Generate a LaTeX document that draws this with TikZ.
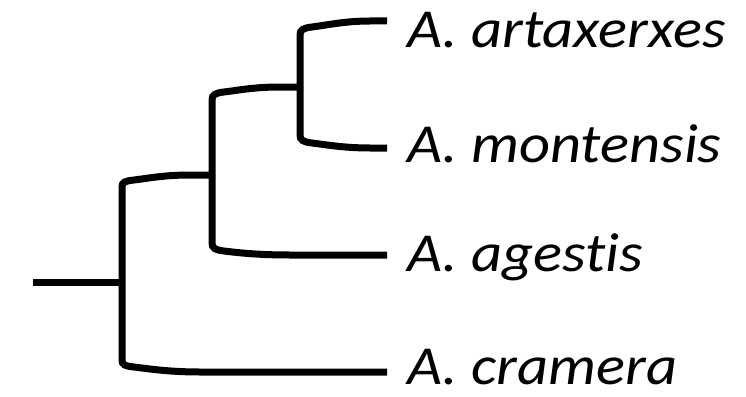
\documentclass[tikz,border=0pt]{standalone}
\usepackage{fontspec}
\setmainfont{Carlito}[Ligatures=NoCommon, FakeStretch=1.1]
\begin{document}
\begin{tikzpicture}[x=1pt,y=-1pt,
	branch/.style={ line width=7pt },
	taxon/.style={ anchor=base west, inner sep=0pt, font=\fontsize{55}{66}\selectfont\itshape }
]
\useasboundingbox (0,0) rectangle (746,396);

\coordinate (root) at (33,282);
\coordinate (n1) at (122,282);
\coordinate (n2) at (212,175);
\coordinate (n3) at (300,87);
\coordinate (tart) at (387,21);
\coordinate (tmon) at (387,148);
\coordinate (tage) at (387,255);
\coordinate (tcra) at (387,372);
\node at (407,48) (art) [taxon] {A. artaxerxes};
\node at (407,162) (mon) [taxon] {A. montensis};
\node at (407,271) (age) [taxon] {A. agestis};
\node at (407,384) (cra) [taxon] {A. cramera};

\draw[branch] (root) -- (n1);
\draw[branch] (n1) -- (122,187) .. controls (122,182) and (125,181) .. (134,180)
  .. controls (150,178) and (165,175) .. (190,175) -- (n2);
\draw[branch] (n1) -- (122,360) .. controls (122,365) and (125,366) .. (134,367)
  .. controls (150,369) and (170,372) .. (200,372) -- (tcra);
\draw[branch] (n2) -- (212,100) .. controls (212,95) and (215,93) .. (224,92)
  .. controls (240,90) and (255,87) .. (280,87) -- (n3);
\draw[branch] (n2) -- (212,243) .. controls (212,248) and (215,250) .. (224,251)
  .. controls (240,253) and (260,255) .. (290,255) -- (tage);
\draw[branch] (n3) -- (300,35) .. controls (300,30) and (303,28) .. (312,27)
  .. controls (328,25) and (345,21) .. (370,21) -- (tart);
\draw[branch] (n3) -- (300,135) .. controls (300,140) and (303,142) .. (312,143)
  .. controls (328,145) and (345,148) .. (370,148) -- (tmon);

\end{tikzpicture}
\end{document}
